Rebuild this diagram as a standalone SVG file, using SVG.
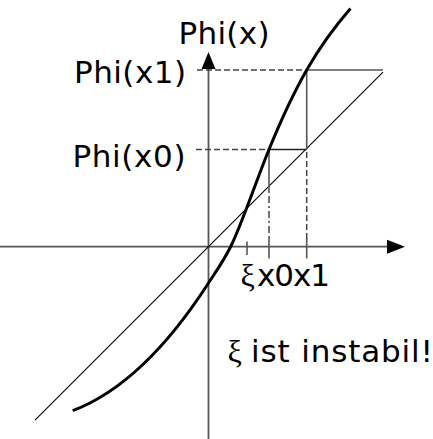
<svg xmlns="http://www.w3.org/2000/svg" width="433" height="439" viewBox="0 0 433 439">
<style>
.axis{stroke:#555;stroke-width:1.8;fill:none}
.guide{stroke:#555;stroke-width:1.6;fill:none}
.dash{stroke:#444;stroke-width:1.5;fill:none;stroke-dasharray:6,3}
.dashdot{stroke:#444;stroke-width:1.5;fill:none;stroke-dasharray:7,3,2,3}
.diag{stroke:#000;stroke-width:1.1;fill:none}
.curve{stroke:#000;stroke-width:3;fill:none;stroke-linecap:butt}
.head{fill:#000}
text{font-family:"DejaVu Sans","Verdana",sans-serif;font-size:31px;fill:#000}
.greek{font-family:"Liberation Serif","DejaVu Serif",serif;font-size:32px}
</style>
<rect width="433" height="439" fill="#fff"/>
<g id="axes">
<line class="axis" x1="208.5" y1="439" x2="208.5" y2="68"/>
<polygon class="head" points="201.5,69 215.5,69 208.5,52"/>
<line class="axis" x1="0" y1="246.7" x2="388" y2="246.7"/>
<polygon class="head" points="387,239.7 387,253.7 405,246.7"/>
</g>
<g id="connectors">
<line class="diag" x1="35" y1="420.2" x2="383" y2="72.2"/>
<line class="dash" x1="197" y1="70" x2="306.7" y2="70"/>
<line class="guide" x1="306.7" y1="70" x2="383" y2="70"/>
<line class="dash" x1="196" y1="149.5" x2="269" y2="149.5"/>
<line class="guide" x1="269" y1="149.5" x2="306.7" y2="149.5" style="stroke:#222"/>
<line class="guide" x1="306.7" y1="70" x2="306.7" y2="149.5"/>
<line class="dash" x1="306.7" y1="152" x2="306.7" y2="240"/>
<line class="guide" x1="269" y1="149.5" x2="269" y2="193"/>
<line class="dashdot" x1="269" y1="196" x2="269" y2="240"/>
<line class="guide" x1="269" y1="238" x2="269" y2="258.5"/>
<line class="guide" x1="306.7" y1="238" x2="306.7" y2="258.5"/>
<line class="guide" x1="247" y1="241.5" x2="247" y2="255"/>
</g>
<g id="curve">
<path class="curve" d="M350.5,8.5 C335.9,25.29 321.3,44.45 306.7,70 C294.13,91.99 281.57,118.71 269,149.5 C261.5,167.88 254,189 246.5,208.5 C241.17,222.37 235.83,236.33 230.5,247 C223.17,261.67 215.83,271.63 208.5,283 C163.23,353.2 117.97,393.5 72.7,410.7"/>
</g>
<g id="labels">
<text id="phix" x="178.5" y="44" textLength="91" lengthAdjust="spacing">Phi(x)</text>
<text id="phix1" x="74" y="83" textLength="112" lengthAdjust="spacing">Phi(x1)</text>
<text id="phix0" x="72.5" y="166.5" textLength="113" lengthAdjust="spacing">Phi(x0)</text>
<text id="xi-label" class="greek" x="240.5" y="286">ξ</text>
<text id="x-labels" x="257" y="286" textLength="73" lengthAdjust="spacing">x0x1</text>
<text id="note-xi" class="greek" x="227.5" y="362">ξ</text>
<text id="note" x="251" y="362" textLength="182" lengthAdjust="spacing">ist instabil!</text>
</g>
</svg>
